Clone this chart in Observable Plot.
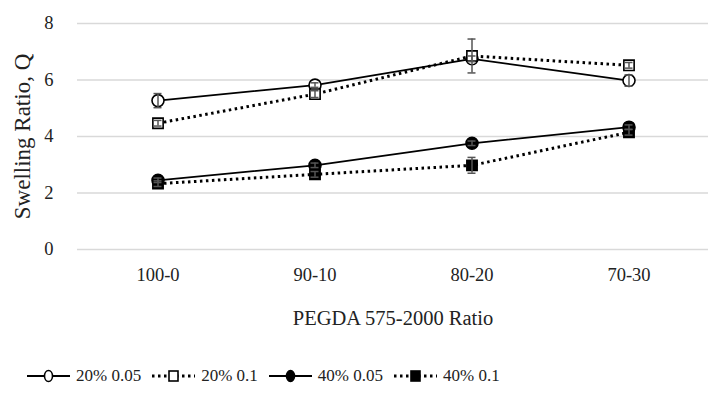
<!DOCTYPE html>
<html><head><meta charset="utf-8">
<script src="https://cdn.jsdelivr.net/npm/d3@7"></script>
<script src="https://cdn.jsdelivr.net/npm/@observablehq/plot@0.6"></script>
<style>
body{margin:0;background:#fff;font-family:"Liberation Serif",serif;}
#legend{display:flex;justify-content:flex-start;gap:11px;font-size:17px;color:#222;margin-top:21px;margin-left:27px}
#legend .it{display:flex;align-items:center;gap:6px}
</style></head><body>
<div id="chart"></div>
<div id="legend"></div>
<script>
const categories = ["100-0","90-10","80-20","70-30"];
const seriesNames = ["20% 0.05","20% 0.1","40% 0.05","40% 0.1"];
const s20_005 = [5.27, 5.82, 6.75, 5.98];
const s20_01  = [4.47, 5.50, 6.85, 6.52];
const s40_005 = [2.45, 2.98, 3.76, 4.33];
const s40_01  = [2.33, 2.66, 2.98, 4.15];
const e20_005 = [0.25, 0.08, 0.1, 0.2];
const e20_01  = [0.1, 0.12, 0.6, 0.1];
const e40_005 = [0.08, 0.08, 0.08, 0.08];
const e40_01  = [0.1, 0.1, 0.28, 0.1];
const yTicks = [0,2,4,6,8];
const xTitle = "PEGDA 575-2000 Ratio";
const yTitle = "Swelling Ratio, Q";

const vals = [s20_005, s20_01, s40_005, s40_01];
const errs = [e20_005, e20_01, e40_005, e40_01];
const styles = [
  {dash: null, symbol: "circle", fill: "white"},
  {dash: "2.5,3.5", symbol: "square", fill: "white"},
  {dash: null, symbol: "circle", fill: "black"},
  {dash: "2.5,3.5", symbol: "square", fill: "black"}
];
const data = [];
seriesNames.forEach((s, i) => categories.forEach((c, j) => data.push({series: s, idx: i, cat: c, v: vals[i][j], e: errs[i][j]})));

const marks = [
  Plot.gridY(yTicks, {stroke: "#d9d9d9", strokeOpacity: 1, strokeWidth: 1.5}),
  Plot.axisY(yTicks, {tickSize: 0, tickPadding: 24, fontSize: 18.5, label: null}),
  Plot.axisX({tickSize: 0, tickPadding: 18, fontSize: 18.5, label: null}),
  Plot.text([xTitle], {text: d => d, frameAnchor: "bottom", dy: 69, textAnchor: "middle", lineAnchor: "middle", fontSize: 20.5, fill: "#222"}),
  Plot.text([yTitle], {text: d => d, frameAnchor: "left", dx: -55, rotate: -90, textAnchor: "middle", lineAnchor: "middle", fontSize: 23, fill: "#222"})
];
seriesNames.forEach((s, i) => {
  const d = data.filter(r => r.idx === i);
  const st = styles[i];
  marks.push(Plot.line(d, {x: "cat", y: "v", stroke: "black", strokeWidth: st.dash ? 3 : 1.8, strokeDasharray: st.dash, strokeLinecap: st.dash ? "butt" : "round"}));
});
seriesNames.forEach((s, i) => {
  const d = data.filter(r => r.idx === i);
  const st = styles[i];
  marks.push(Plot.dot(d, {x: "cat", y: "v", symbol: st.symbol, r: st.symbol === "square" ? 5.8 : 6, fill: st.fill, stroke: "black", strokeWidth: 1.6}));
});
seriesNames.forEach((s, i) => {
  const d = data.filter(r => r.idx === i);
  marks.push(Plot.ruleX(d, {x: "cat", y1: r => r.v - r.e, y2: r => r.v + r.e, stroke: "#555", strokeWidth: 1.5}));
  marks.push(Plot.tickY(d, {x: "cat", y: r => r.v + r.e, stroke: "#555", strokeWidth: 1.5, insetLeft: 74.5, insetRight: 74.5}));
  marks.push(Plot.tickY(d, {x: "cat", y: r => r.v - r.e, stroke: "#555", strokeWidth: 1.5, insetLeft: 74.5, insetRight: 74.5}));
});

const chart = Plot.plot({
  width: 723, height: 345,
  marginLeft: 77, marginRight: 15, marginTop: 23, marginBottom: 96,
  style: {fontFamily: "Liberation Serif, serif", fontSize: "18px", color: "#222", background: "white"},
  x: {domain: categories, type: "band", padding: 0, label: null},
  y: {domain: [0, 8], label: null},
  marks
});
document.getElementById("chart").appendChild(chart);

const leg = document.getElementById("legend");
seriesNames.forEach((s, i) => {
  const st = styles[i];
  const it = document.createElement("div");
  it.className = "it";
  const ns = "http://www.w3.org/2000/svg";
  const svg = document.createElementNS(ns, "svg");
  svg.setAttribute("width", 43); svg.setAttribute("height", 16);
  const ln = document.createElementNS(ns, "line");
  ln.setAttribute("x1", 0); ln.setAttribute("x2", 43); ln.setAttribute("y1", 8); ln.setAttribute("y2", 8);
  ln.setAttribute("stroke", "black"); ln.setAttribute("stroke-width", st.dash ? 3 : 1.8);
  if (st.dash) ln.setAttribute("stroke-dasharray", st.dash);
  svg.appendChild(ln);
  let m;
  if (st.symbol === "circle") { m = document.createElementNS(ns, "ellipse"); m.setAttribute("cx", 21.5); m.setAttribute("cy", 8); m.setAttribute("rx", 4); m.setAttribute("ry", 5.5); }
  else { m = document.createElementNS(ns, "rect"); m.setAttribute("x", 17); m.setAttribute("y", 3); m.setAttribute("width", 9); m.setAttribute("height", 10); }
  m.setAttribute("fill", st.fill); m.setAttribute("stroke", "black"); m.setAttribute("stroke-width", 1.6);
  svg.appendChild(m);
  it.appendChild(svg);
  const t = document.createElement("span"); t.textContent = s; it.appendChild(t);
  leg.appendChild(it);
});
</script>
</body></html>
